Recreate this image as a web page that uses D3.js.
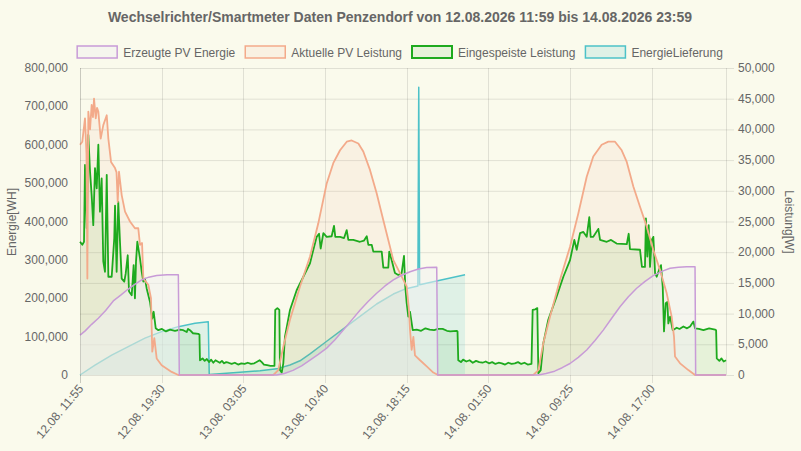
<!DOCTYPE html>
<html>
<head>
<meta charset="utf-8">
<script src="https://cdn.jsdelivr.net/npm/d3@7"></script>
<style>
	html, body { margin: 0; padding: 0; background: #fafaec; }
	text { font-family: "Liberation Sans", Arial, Helvetica, sans-serif; fill: #666; }
</style>
</head>
<body>
<svg id="chart" width="801" height="451"></svg>
<script>
'use strict';

// time is in hours since 12.08. 00:00
var xTickHours = [11.917, 19.5, 27.083, 34.667, 42.25, 49.833, 57.417, 65.0];
var xTickLabels = ['12.08. 11:55', '12.08. 19:30', '13.08. 03:05', '13.08. 10:40',
	'13.08. 18:15', '14.08. 01:50', '14.08. 09:25', '14.08. 17:00'];

var energyTicks = [0, 100000, 200000, 300000, 400000, 500000, 600000, 700000, 800000];
var powerTicks = [0, 5000, 10000, 15000, 20000, 25000, 30000, 35000, 40000, 45000, 50000];

var legendNames = ['Erzeugte PV Energie', 'Aktuelle PV Leistung', 'Eingespeiste Leistung', 'EnergieLieferung'];

// Erzeugte PV Energie [Wh], left axis
var erzeugteEnergie = [
	[11.92, 104000], [12.4, 115000], [13.0, 132000], [13.62, 148000], [14.3, 168000], [15.01, 193000],
	[15.7, 208000], [16.4, 224000], [17.0, 236000], [17.65, 248000], [18.3, 255000], [19.04, 259000],
	[20.0, 261000], [21.05, 261000], [21.14, 0], [30.19, 0], [30.9, 4000], [31.7, 12000],
	[32.5, 24000], [33.28, 39000], [34.05, 54000], [34.83, 70000], [35.6, 92000], [36.37, 117000],
	[37.15, 143000], [37.92, 169000], [38.7, 192000], [39.47, 213000], [40.25, 232000], [41.02, 248000],
	[41.8, 260000], [42.57, 269000], [43.35, 276000], [44.12, 280000], [45.05, 281000], [45.14, 0],
	[54.5, 0], [55.2, 4000], [56.0, 10000], [56.7, 19000], [57.43, 30000], [58.2, 46000],
	[58.98, 65000], [59.75, 90000], [60.52, 117000], [61.3, 148000], [62.07, 178000], [62.85, 204000],
	[63.62, 226000], [64.4, 244000], [65.16, 259000], [65.95, 270000], [66.72, 278000], [67.5, 281000],
	[68.27, 282000], [69.04, 282000], [69.1, 0], [71.92, 0]
];

// Aktuelle PV Leistung [W], right axis
var aktuelleLeistung = [
	[11.92, 37500], [12.13, 38000], [12.38, 41800], [12.52, 36000], [12.6, 15700], [12.69, 42900],
	[12.85, 40000], [13.0, 44000], [13.12, 42000], [13.22, 45000], [13.38, 41800], [13.5, 43500],
	[13.62, 42900], [13.84, 38500], [14.08, 40700], [14.4, 42300], [14.55, 38500], [14.8, 34700],
	[15.17, 33700], [15.31, 33000], [15.42, 28200], [15.54, 33100], [15.79, 29300], [16.1, 26600],
	[16.56, 25000], [17.02, 23900], [17.33, 23900], [17.49, 21200], [17.68, 21500], [17.8, 15700],
	[18.26, 14700], [18.51, 12500], [18.63, 3800], [18.82, 6000], [19.04, 2700], [19.5, 1600],
	[20.43, 500], [21.05, 0], [29.87, 0], [30.33, 800], [30.8, 4600], [31.42, 9000],
	[32.35, 14400], [33.28, 19300], [34.05, 24700], [34.83, 31200], [35.44, 34500], [36.07, 36600],
	[36.69, 38000], [37.15, 38200], [37.77, 37700], [38.23, 36400], [38.85, 33400], [39.47, 29600],
	[40.09, 25200], [40.55, 22000], [41.02, 18700], [41.64, 16600], [42.26, 14400], [42.47, 10600],
	[42.57, 7300], [42.72, 4100], [42.88, 6200], [43.03, 3200], [43.5, 2400], [44.12, 1400],
	[44.73, 400], [45.17, 0], [54.02, 0], [54.49, 800], [54.95, 5200], [55.57, 9500],
	[56.5, 15500], [57.43, 20900], [58.2, 26300], [58.98, 32300], [59.59, 35600], [60.37, 37500],
	[60.99, 38000], [61.61, 38000], [62.23, 36600], [62.7, 34700], [63.31, 30700], [63.93, 27400],
	[64.55, 24200], [65.16, 20400], [65.79, 17100], [66.41, 13300], [66.87, 9500], [67.09, 6200],
	[67.18, 3000], [67.65, 1900], [68.42, 800], [69.04, 0], [71.92, 0]
];

// Eingespeiste Leistung [W], right axis
var eingespeist = [
	[11.92, 21700], [12.13, 21200], [12.29, 21700], [12.38, 34200], [12.54, 23900], [12.69, 39100],
	[12.85, 33100], [13.0, 29300], [13.15, 24400], [13.31, 33700], [13.47, 30400], [13.62, 37500],
	[13.77, 26600], [13.93, 32000], [14.08, 18500], [14.24, 16800], [14.4, 32600], [14.55, 16000],
	[14.86, 16000], [15.1, 22300], [15.17, 27600], [15.32, 16800], [15.47, 28200], [15.63, 21700],
	[15.79, 15700], [16.03, 15200], [16.16, 16500], [16.35, 19500], [16.47, 13600], [16.72, 13000],
	[16.9, 17900], [17.02, 12500], [17.12, 18500], [17.24, 21700], [17.49, 19000], [17.65, 16800],
	[17.8, 15200], [17.95, 15700], [18.11, 14100], [18.42, 11900], [18.63, 9200], [18.76, 10300],
	[18.95, 7600], [19.19, 7300], [19.53, 7500], [19.9, 7100], [20.28, 7400], [20.74, 7200],
	[21.2, 7400], [21.51, 7300], [21.83, 7000], [21.95, 7500], [22.13, 7300], [22.41, 6800],
	[22.9, 6700], [23.01, 6600], [23.06, 2400], [23.3, 2700], [23.5, 2300], [23.7, 2600],
	[23.9, 2100], [24.1, 2500], [24.3, 2000], [24.5, 2400], [24.7, 2200], [24.9, 2000],
	[25.1, 2300], [25.3, 1900], [25.5, 2100], [25.7, 2000], [26.0, 1800], [26.3, 2000],
	[26.6, 1700], [26.9, 1900], [27.2, 1800], [27.5, 2000], [27.8, 1800], [28.1, 1900],
	[28.4, 2200], [28.6, 2400], [28.8, 2100], [29.0, 1700], [29.3, 1600], [29.6, 1500],
	[29.98, 1500], [30.05, 10600], [30.25, 10900], [30.43, 10600], [30.49, 800], [30.65, 400],
	[30.8, 1900], [30.95, 6200], [31.42, 10600], [32.04, 13800], [32.66, 16000], [33.28, 18200],
	[33.59, 20400], [33.9, 22500], [34.12, 23000], [34.27, 20600], [34.52, 23100], [34.83, 22500],
	[35.29, 22600], [35.51, 24300], [35.63, 22500], [36.07, 22500], [36.44, 22300], [36.69, 23600],
	[36.84, 22000], [37.3, 22000], [37.92, 21700], [38.3, 21900], [38.55, 22600], [38.7, 21200],
	[39.01, 21200], [39.16, 20100], [39.94, 20100], [40.09, 17500], [40.55, 17500], [40.64, 20100],
	[40.87, 18700], [41.17, 16600], [41.48, 16300], [41.79, 16600], [42.01, 19400], [42.13, 14400],
	[42.26, 11700], [42.41, 9500], [42.57, 10300], [42.82, 7300], [43.19, 7400], [43.6, 7200],
	[44.0, 7600], [44.4, 7400], [44.8, 7300], [45.2, 7500], [45.6, 7500], [46.0, 7200],
	[46.3, 7100], [46.9, 7200], [46.98, 7100], [47.05, 2400], [47.3, 2100], [47.5, 2500],
	[47.8, 2200], [48.1, 2400], [48.4, 2000], [48.7, 2300], [49.0, 2100], [49.3, 2000],
	[49.6, 2200], [49.9, 1900], [50.2, 2100], [50.5, 1800], [50.8, 2000], [51.1, 1900],
	[51.4, 1700], [51.7, 2000], [52.0, 1800], [52.3, 1900], [52.6, 2100], [52.9, 1800],
	[53.2, 2000], [53.5, 1700], [53.85, 1800], [53.96, 10600], [54.2, 10700], [54.39, 10900],
	[54.49, 300], [54.71, 800], [54.95, 5200], [55.41, 9000], [56.19, 12800], [56.81, 16000],
	[57.43, 18700], [57.83, 22000], [58.05, 20400], [58.36, 23100], [58.67, 23300], [58.98, 22500],
	[59.22, 25700], [59.35, 22500], [59.59, 22500], [60.06, 23800], [60.22, 22000], [60.84, 21700],
	[61.24, 22000], [61.76, 21400], [62.7, 21300], [62.88, 23000], [63.0, 20500], [63.93, 20400],
	[64.11, 17600], [64.39, 17600], [64.48, 25500], [64.61, 19300], [64.74, 24400], [64.86, 17600],
	[65.02, 22000], [65.17, 22500], [65.33, 16600], [65.48, 16000], [65.79, 17600], [65.88, 17900],
	[66.04, 14400], [66.16, 7100], [66.32, 11700], [66.47, 11900], [66.56, 8400], [66.72, 9500],
	[66.97, 7300], [67.34, 7700], [67.6, 7500], [67.96, 7900], [68.3, 7600], [68.58, 7900],
	[68.89, 8700], [69.04, 7600], [69.4, 7500], [69.82, 7300], [70.35, 7600], [70.9, 7400],
	[71.0, 7300], [71.06, 2700], [71.3, 2300], [71.5, 2700], [71.7, 2200], [71.92, 2400]
];

// EnergieLieferung [Wh], left axis
var energieLieferung = [
	[11.92, 0], [13.31, 26000], [14.86, 52000], [16.4, 74000], [17.95, 96000], [19.5, 113000],
	[21.05, 126000], [22.6, 135000], [23.83, 139000], [23.92, 1000], [26.78, 7000], [28.64, 11000],
	[30.19, 16000], [31.42, 26000], [32.35, 37000], [33.28, 55000], [34.83, 88000], [36.37, 120000],
	[37.92, 153000], [39.47, 185000], [41.02, 211000], [42.2, 225000], [43.3, 232000], [43.38, 750000],
	[43.46, 235000], [45.35, 247000], [47.68, 261000]
];

var margin = { left : 80, right : 726, top : 68, bottom : 375 };

var svg = d3.select('#chart');

var x = d3.scaleLinear().domain([11.917, 71.917]).range([margin.left, margin.right]);
var yLeft = d3.scaleLinear().domain([0, 800000]).range([margin.bottom, margin.top]);
var yRight = d3.scaleLinear().domain([0, 50000]).range([margin.bottom, margin.top]);

var gridColor = 'rgba(0,0,0,0.1)';

// title
svg.append('text')
	.attr('x', 400).attr('y', 22)
	.attr('text-anchor', 'middle')
	.style('font-size', '14px').style('font-weight', 'bold')
	.text('Wechselrichter/Smartmeter Daten Penzendorf von 12.08.2026 11:59 bis 14.08.2026 23:59');

// horizontal grid (from the right axis)
svg.append('g').selectAll('line')
	.data(powerTicks)
	.enter().append('line')
	.attr('x1', margin.left).attr('x2', margin.right + 8)
	.attr('y1', function (d) { return yRight(d) + 0.5; })
	.attr('y2', function (d) { return yRight(d) + 0.5; })
	.attr('stroke', gridColor);

// vertical grid
svg.append('g').selectAll('line')
	.data(xTickHours)
	.enter().append('line')
	.attr('x1', function (d) { return Math.round(x(d)) + 0.5; })
	.attr('x2', function (d) { return Math.round(x(d)) + 0.5; })
	.attr('y1', margin.top).attr('y2', margin.bottom + 8)
	.attr('stroke', gridColor);

// axis borders
svg.append('line')
	.attr('x1', margin.right + 0.5).attr('x2', margin.right + 0.5)
	.attr('y1', margin.top).attr('y2', margin.bottom)
	.attr('stroke', gridColor);

// the series, bottom one first
var series = [
	{ data : energieLieferung, y : yLeft, stroke : 'rgb(77,194,200)', fill : 'rgba(77,194,200,0.15)', width : 1.5 },
	{ data : eingespeist, y : yRight, stroke : 'rgb(30,170,30)', fill : 'rgba(30,170,30,0.09)', width : 1.8 },
	{ data : aktuelleLeistung, y : yRight, stroke : 'rgb(243,170,138)', fill : 'rgba(243,170,138,0.1)', width : 1.8 },
	{ data : erzeugteEnergie, y : yLeft, stroke : 'rgb(200,155,215)', fill : 'rgba(240,240,240,0.55)', width : 1.5 }
];

function drawFill(s) {
	var area = d3.area()
		.x(function (d) { return x(d[0]); })
		.y0(s.y(0))
		.y1(function (d) { return s.y(d[1]); });
	svg.append('path')
		.attr('d', area(s.data))
		.attr('fill', s.fill);
}

function drawLine(s) {
	var line = d3.line()
		.x(function (d) { return x(d[0]); })
		.y(function (d) { return s.y(d[1]); });
	svg.append('path')
		.attr('d', line(s.data))
		.attr('fill', 'none')
		.attr('stroke', s.stroke)
		.attr('stroke-width', s.width)
		.attr('stroke-linejoin', 'round');
}

// the delivery series sits below all other fills, the rest get their lines on top
drawFill(series[0]);
drawLine(series[0]);
series.slice(1).forEach(drawFill);
series.slice(1).forEach(drawLine);

// left border drawn over the fills
svg.append('line')
	.attr('x1', margin.left + 0.5).attr('x2', margin.left + 0.5)
	.attr('y1', margin.top).attr('y2', margin.bottom + 8)
	.attr('stroke', gridColor);

var fmt = d3.format(',');

// left axis labels
svg.append('g').selectAll('text')
	.data(energyTicks)
	.enter().append('text')
	.attr('x', 68).attr('y', function (d) { return yLeft(d) + 4; })
	.attr('text-anchor', 'end')
	.style('font-size', '12px')
	.text(fmt);

// right axis labels
svg.append('g').selectAll('text')
	.data(powerTicks)
	.enter().append('text')
	.attr('x', 738).attr('y', function (d) { return yRight(d) + 4; })
	.style('font-size', '12px')
	.text(fmt);

// x axis labels, rotated
svg.append('g').selectAll('text')
	.data(xTickHours)
	.enter().append('text')
	.attr('transform', function (d) { return 'translate(' + (x(d) + 4) + ',' + 389 + ') rotate(-50)'; })
	.attr('text-anchor', 'end')
	.style('font-size', '12px')
	.text(function (d, i) { return xTickLabels[i]; });

// axis titles
svg.append('text')
	.attr('transform', 'translate(16,222) rotate(-90)')
	.attr('text-anchor', 'middle')
	.style('font-size', '12px')
	.text('Energie[WH]');
svg.append('text')
	.attr('transform', 'translate(785,222) rotate(90)')
	.attr('text-anchor', 'middle')
	.style('font-size', '12px')
	.text('Leistung[W]');

// legend
var legend = svg.append('g');
var items = legend.selectAll('g')
	.data(series.slice().reverse())
	.enter().append('g');
items.append('rect')
	.attr('width', 40).attr('height', 12)
	.attr('fill', function (d) { return d.fill; })
	.attr('stroke', function (d) { return d.stroke; })
	.attr('stroke-width', function (d) { return d.data === eingespeist ? 2 : 1.5; });
items.append('text')
	.attr('x', 46).attr('y', 10.5)
	.style('font-size', '12px')
	.text(function (d, i) { return legendNames[i]; });

var widths = [];
items.each(function () {
	widths.push(46 + d3.select(this).select('text').node().getComputedTextLength() + 10);
});
var total = d3.sum(widths) - 10;
var pos = 400 - total / 2;
items.attr('transform', function (d, i) {
	var t = 'translate(' + pos + ',46)';
	pos += widths[i];
	return t;
});
</script>
</body>
</html>
